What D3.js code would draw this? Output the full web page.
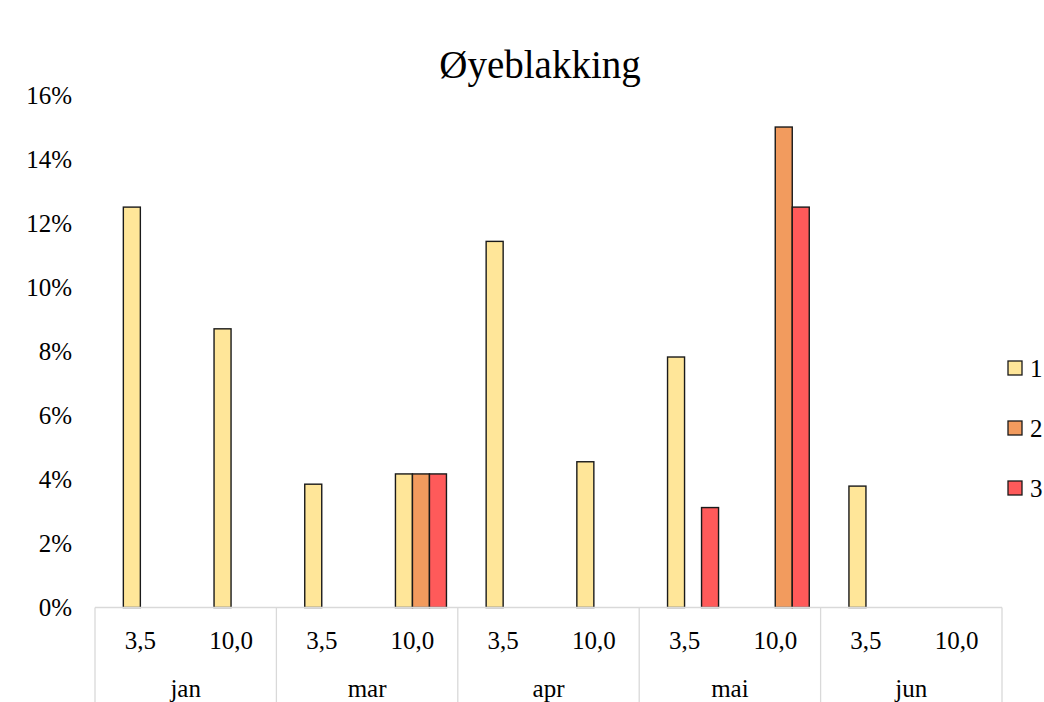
<!DOCTYPE html>
<html>
<head>
<meta charset="utf-8">
<script src="https://cdn.jsdelivr.net/npm/d3@7"></script>
<style>
  html, body { margin: 0; padding: 0; background: #fff; }
  svg { display: block; }
  svg text { font-family: "Liberation Serif", "DejaVu Serif", "Times New Roman", serif; }
</style>
</head>
<body>
<svg id="chart" width="1044" height="702"></svg>
<script>
// Month groups and dose sub-categories
const months = ["jan", "mar", "apr", "mai", "jun"];
const doses = ["3,5", "10,0"];

// Series values (%), one per month/dose pair, in order jan 3,5, jan 10,0, mar 3,5, ...
const series1 = [12.5, 8.7, 3.85, 4.17, 11.43, 4.55, 7.82, null, 3.79, null];
const series2 = [null, null, null, 4.17, null, null, null, 15.0, null, null];
const series3 = [null, null, null, 4.17, null, null, 3.12, 12.5, null, null];

const seriesNames = ["1", "2", "3"];
const seriesColors = ["#FFE699", "#F29B5E", "#FF5A5A"];
const yTicks = [0, 2, 4, 6, 8, 10, 12, 14, 16];

const FONT = "'Liberation Serif', 'DejaVu Serif', 'Times New Roman', serif";

const svg = d3.select("#chart").attr("font-family", FONT);
const margin = { left: 95, right: 1002, top: 95, bottom: 607.5 };

// Scales
const x0 = d3.scaleBand().domain(months).range([margin.left, margin.right]).padding(0);
const x1 = d3.scaleBand().domain(doses).range([0, x0.bandwidth()]).padding(0);
// four bar slots per dose; the first slot stays empty
const x2 = d3.scaleBand().domain(["0", ...seriesNames]).range([0, x1.bandwidth()])
  .paddingInner(0).paddingOuter(0.667);
const y = d3.scaleLinear().domain([0, 16]).range([margin.bottom, margin.top]);

// Flatten data
const allSeries = [series1, series2, series3];
const bars = [];
allSeries.forEach((vals, si) => {
  vals.forEach((v, i) => {
    if (v == null) return;
    bars.push({
      month: months[Math.floor(i / doses.length)],
      dose: doses[i % doses.length],
      series: seriesNames[si],
      color: seriesColors[si],
      value: v
    });
  });
});

// Title
svg.append("text")
  .attr("x", 540).attr("y", 78)
  .attr("text-anchor", "middle")
  .attr("font-family", FONT)
  .attr("font-size", 39)
  .attr("fill", "#000")
  .text("Øyeblakking");

// Y axis labels (no axis line, no gridlines)
const yAxis = d3.axisLeft(y).tickValues(yTicks).tickFormat(d => d + "%").tickSize(0).tickPadding(0);
const yG = svg.append("g").attr("transform", `translate(72,0)`).call(yAxis)
  .attr("font-family", FONT).attr("font-size", 25);
yG.select(".domain").remove();
yG.selectAll("text").attr("font-size", 25).attr("fill", "#000").attr("font-family", FONT);

// Bars
svg.append("g").selectAll("rect").data(bars).join("rect")
  .attr("x", d => x0(d.month) + x1(d.dose) + x2(d.series))
  .attr("y", d => y(d.value))
  .attr("width", x2.bandwidth())
  .attr("height", d => y(0) - y(d.value))
  .attr("fill", d => d.color)
  .attr("stroke", "#1a1a1a")
  .attr("stroke-width", 1.4);

// Category axis: baseline and group dividers
const axisColor = "#D9D9D9";
svg.append("line")
  .attr("x1", margin.left).attr("x2", margin.right)
  .attr("y1", margin.bottom).attr("y2", margin.bottom)
  .attr("stroke", axisColor).attr("stroke-width", 1.3);
const dividers = months.map(m => x0(m)).concat([margin.right]);
svg.append("g").selectAll("line").data(dividers).join("line")
  .attr("x1", d => d).attr("x2", d => d)
  .attr("y1", margin.bottom).attr("y2", 702)
  .attr("stroke", axisColor).attr("stroke-width", 1.3);

// Dose labels
const doseLabels = [];
months.forEach(m => doses.forEach(d => doseLabels.push({ m, d })));
svg.append("g").selectAll("text").data(doseLabels).join("text")
  .attr("x", d => x0(d.m) + x1(d.d) + x1.bandwidth() / 2)
  .attr("y", 649)
  .attr("text-anchor", "middle")
  .attr("font-family", FONT)
  .attr("font-size", 25)
  .attr("fill", "#000")
  .text(d => d.d);

// Month labels
svg.append("g").selectAll("text").data(months).join("text")
  .attr("x", d => x0(d) + x0.bandwidth() / 2)
  .attr("y", 697)
  .attr("text-anchor", "middle")
  .attr("font-family", FONT)
  .attr("font-size", 25)
  .attr("fill", "#000")
  .text(d => d);

// Legend
const legend = svg.append("g").selectAll("g").data(seriesNames).join("g")
  .attr("transform", (d, i) => `translate(1008, ${368 + i * 60})`);
legend.append("rect")
  .attr("x", 0).attr("y", -7).attr("width", 14).attr("height", 14)
  .attr("fill", (d, i) => seriesColors[i])
  .attr("stroke", "#1a1a1a").attr("stroke-width", 1.3);
legend.append("text")
  .attr("x", 22).attr("y", 9)
  .attr("font-family", FONT)
  .attr("font-size", 25)
  .attr("fill", "#000")
  .text(d => d);
</script>
</body>
</html>
